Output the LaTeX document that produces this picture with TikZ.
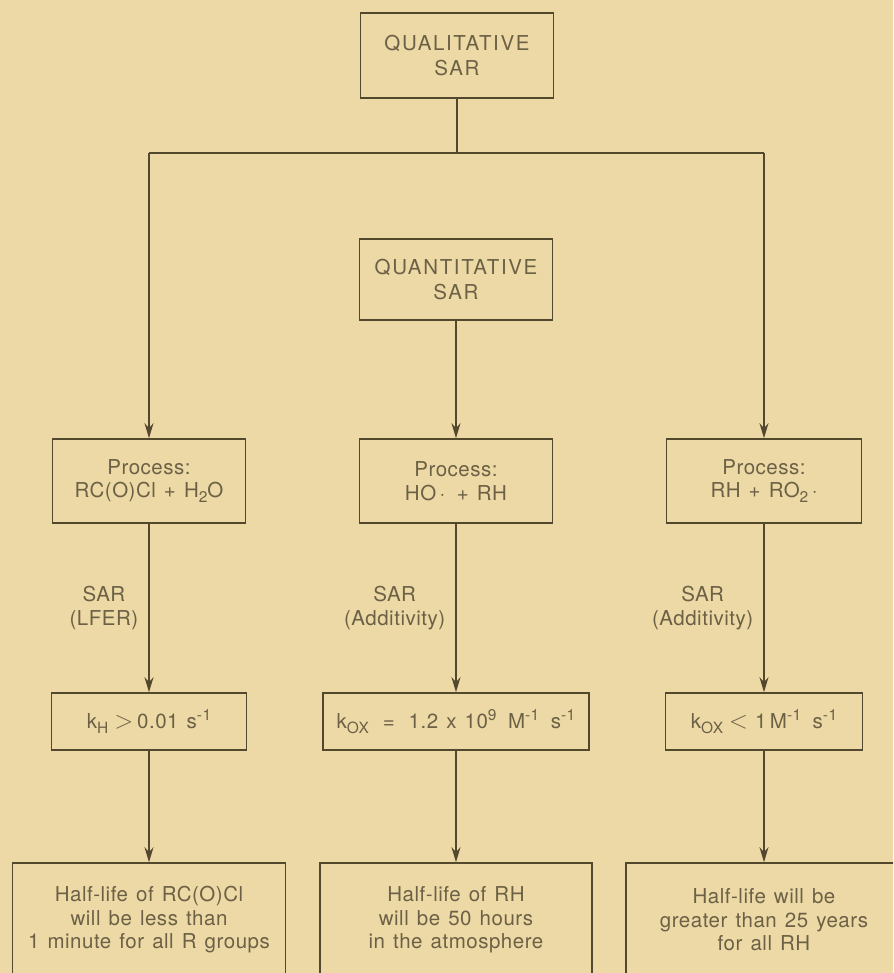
\documentclass[tikz,border=0pt]{standalone}
\usepackage{fontspec}
\setmainfont{TeX Gyre Heros}[LetterSpace=2.5,WordSpace=1.3]
\newfontfamily\capsfont{TeX Gyre Heros}[LetterSpace=8]
\usetikzlibrary{arrows.meta}

\definecolor{paper}{RGB}{236,217,165}
\definecolor{ink}{RGB}{82,72,45}
\definecolor{txt}{RGB}{108,97,70}

% chemical-style sub- and superscripts in the text font
\newcommand{\lowtxt}[1]{\raisebox{-0.45ex}{\fontsize{15.5}{15.5}\selectfont #1}}
\newcommand{\hightxt}[1]{\raisebox{0.8ex}{\fontsize{15.5}{15.5}\selectfont #1}}
% comparison signs: thin relation symbols, a little larger than the text
\newcommand{\cmpsign}[1]{\hspace{6pt}{\fontsize{24}{24}\selectfont$#1$}\hspace{4pt}}

\begin{document}
\begin{tikzpicture}[x=1pt,y=-1pt,
  box/.style={draw=ink, line width=1.6pt, text=txt, align=center,
    inner sep=0pt, font=\fontsize{20.5}{23.5}\selectfont},
  titlebox/.style={box, font=\capsfont\fontsize{20.5}{25}\selectfont},
  lab/.style={text=txt, align=center, inner sep=0pt,
    font=\fontsize{20.5}{23.5}\selectfont},
  wire/.style={draw=ink, line width=1.6pt},
  arr/.style={draw=ink, line width=1.6pt, -{Stealth[length=15pt,width=9pt]}}]

\useasboundingbox (0,0) rectangle (893,973);
\fill[paper] (0,0) rectangle (893,973);
\clip (0,0) rectangle (893,973);

% top of the tree
\node[titlebox, minimum width=193pt, minimum height=85pt] (qual) at (457,55.5) {QUALITATIVE\\SAR};
\node[titlebox, minimum width=193pt, minimum height=81pt] (quant) at (456,279.5) {QUANTITATIVE\\SAR};

% process boxes
\node[box, minimum width=193pt, minimum height=84pt] (p1) at (149,481) {Process:\\RC(O)Cl + H\lowtxt{2}O};
\node[box, minimum width=193pt, minimum height=84pt] (p2) at (456,481) {Process:\\HO\,·\, + RH};
\node[box, minimum width=195pt, minimum height=84pt] (p3) at (764,481) {Process:\\RH + RO\lowtxt{2}\,·};

% rate constants
\node[box, minimum width=195pt, minimum height=57pt] (k1) at (149,721.5) {k\lowtxt{H}\cmpsign{>}0.01 s\hightxt{-1}};
\node[box, minimum width=266pt, minimum height=57pt] (k2) at (456,721.5) {k\lowtxt{OX} $\;$=$\;$ 1.2 x 10\hightxt{9} $\,$M\hightxt{-1} $\,$s\hightxt{-1}};
\node[box, minimum width=197pt, minimum height=57pt] (k3) at (764,721.5) {k\lowtxt{OX}\cmpsign{<}\hspace{3pt}1\,M\hightxt{-1} $\,$s\hightxt{-1}};

% conclusions
\node[box, minimum width=273pt, minimum height=114pt] (h1) at (149,920) {Half-life of RC(O)Cl\\will be less than\\1 minute for all R groups};
\node[box, minimum width=272pt, minimum height=114pt] (h2) at (456,920) {Half-life of RH\\will be 50 hours\\in the atmosphere};
\node[box, minimum width=276pt, minimum height=114pt] (h3) at (764,920) {Half-life will be\\greater than 25 years\\for all RH};

% branching from the qualitative box
\coordinate (split) at (457,153);
\coordinate (bl) at (149,153);
\coordinate (br) at (764,153);
\draw[wire] (qual.south) -- (split);
\draw[wire] (bl) -- (br);
\draw[arr] (bl) -- (p1.north);
\draw[arr] (br) -- (p3.north);
\draw[arr] (quant.south) -- (p2.north);

% process -> rate constant, with the method used
\draw[arr] (p1.south) -- node[lab, left=10pt] (s1) {SAR\\(LFER)} (k1.north);
\draw[arr] (p2.south) -- node[lab, left=10pt] (s2) {SAR\\(Additivity)} (k2.north);
\draw[arr] (p3.south) -- node[lab, left=10pt] (s3) {SAR\\(Additivity)} (k3.north);

% rate constant -> half-life
\draw[arr] (k1.south) -- (h1.north);
\draw[arr] (k2.south) -- (h2.north);
\draw[arr] (k3.south) -- (h3.north);
\end{tikzpicture}
\end{document}
